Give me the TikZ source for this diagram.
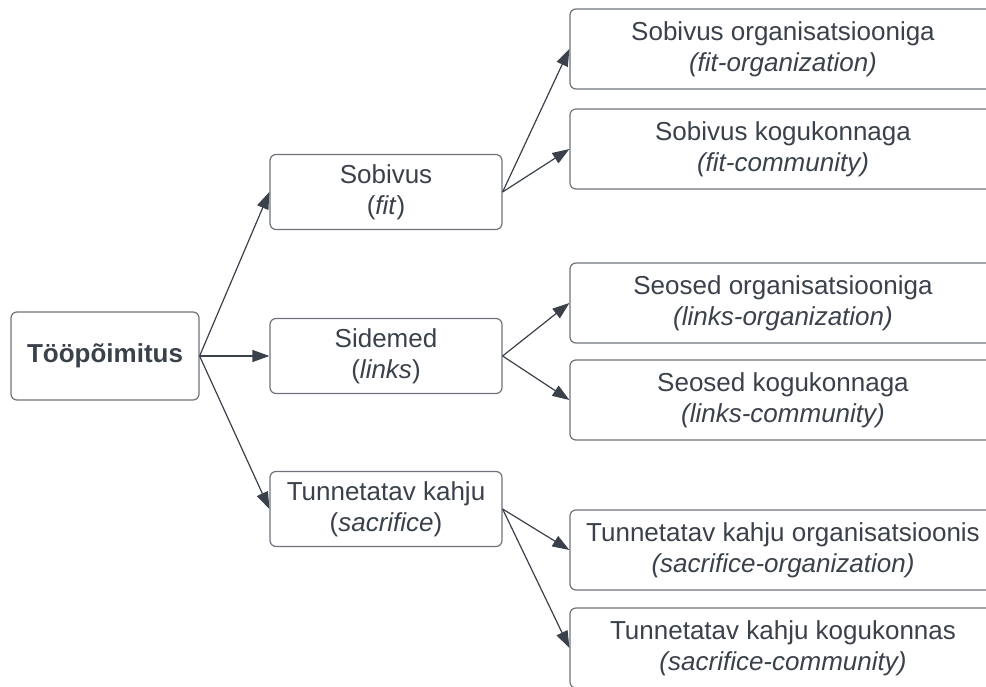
\documentclass[tikz,border=0pt]{standalone}
\usepackage{fontspec}
\setmainfont{Liberation Sans}
\usetikzlibrary{arrows.meta}
\definecolor{inkgray}{HTML}{3A414A}
\definecolor{edgegray}{HTML}{6E737B}

\begin{document}
\begin{tikzpicture}[
		x=1pt,
		y=-1pt,
		box/.style={draw=edgegray,line width=1.2pt,rounded corners=6pt,text=inkgray,align=center,inner sep=0pt,font=\fontsize{26}{31}\selectfont},
		rootbox/.style={box,minimum width=188pt,minimum height=88pt,font=\fontsize{26}{31}\selectfont\bfseries},
		midbox/.style={box,minimum width=232pt,minimum height=75pt},
		leafbox/.style={box,minimum width=426pt,minimum height=80pt},
		link/.style={draw=inkgray,line width=1.2pt,-{Triangle[length=17pt,width=12pt]}},
	]
		\useasboundingbox (0,0) rectangle (986,686);
		
		\node[rootbox] (root) at (105,356) {Tööpõimitus};
		
		\node[midbox] (fit) at (386,192) {Sobivus\\ (\textit{fit})};
		\node[midbox] (links) at (386,356) {Sidemed\\ (\textit{links})};
		\node[midbox] (sacrifice) at (386,509) {Tunnetatav kahju\\ (\textit{sacrifice})};
		
		\node[leafbox] (fitorg) at (783,49) {Sobivus organisatsiooniga\\ \textit{(fit-organization)}};
		\node[leafbox] (fitcom) at (783,149) {Sobivus kogukonnaga\\ \textit{(fit-community)}};
		\node[leafbox] (linksorg) at (783,303) {Seosed organisatsiooniga\\ \textit{(links-organization)}};
		\node[leafbox] (linkscom) at (783,400) {Seosed kogukonnaga\\ \textit{(links-community)}};
		\node[leafbox] (sacrorg) at (783,550) {Tunnetatav kahju organisatsioonis\\ \textit{(sacrifice-organization)}};
		\node[leafbox] (sacrcom) at (783,648) {Tunnetatav kahju kogukonnas\\ \textit{(sacrifice-community)}};
		
		\foreach \from/\to in {root/fit,root/links,root/sacrifice,fit/fitorg,fit/fitcom,links/linksorg,links/linkscom,sacrifice/sacrorg,sacrifice/sacrcom}{
			\draw[link] (\from.east) -- (\to.west);
		}
	\end{tikzpicture}
\end{document}
